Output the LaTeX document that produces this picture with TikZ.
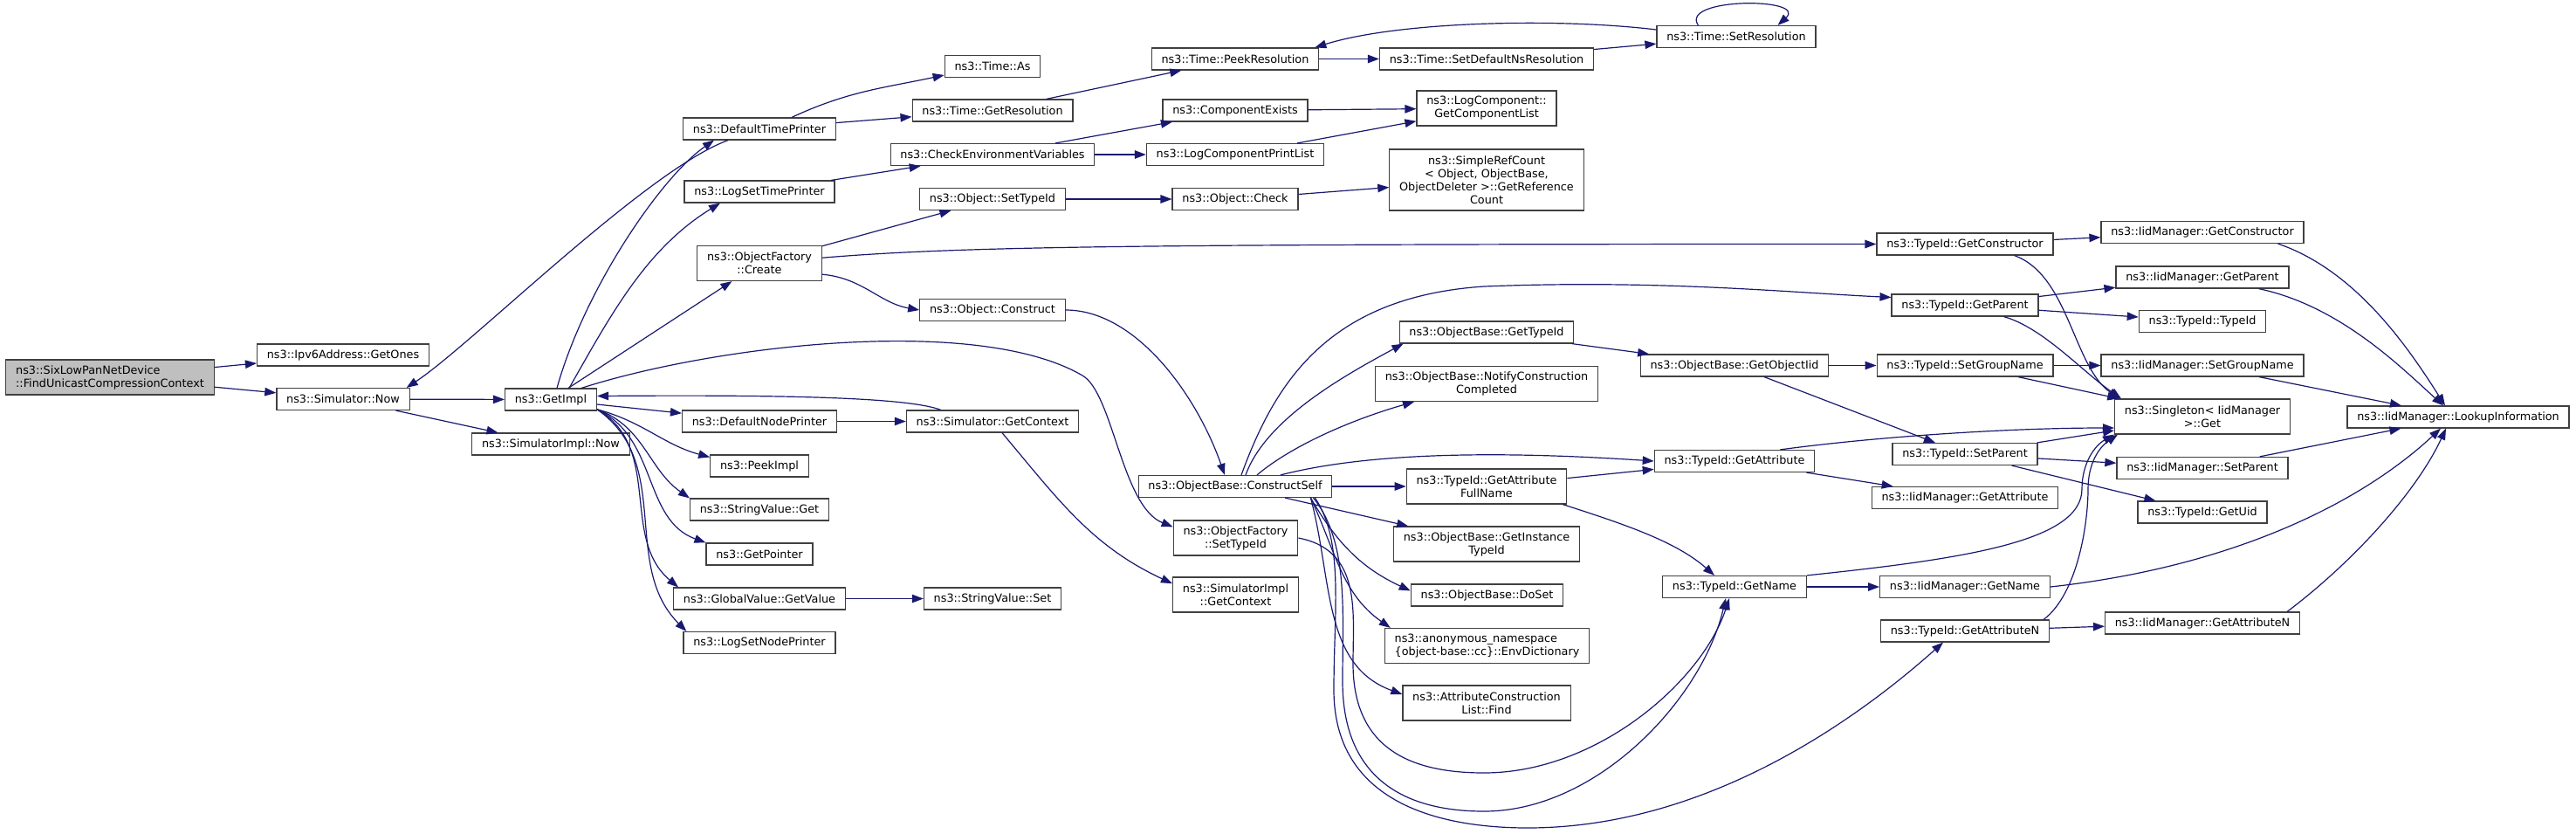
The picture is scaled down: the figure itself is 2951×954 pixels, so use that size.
\documentclass[tikz,border=0pt]{standalone}
\usepackage{fontspec}
\setmainfont{DejaVu Sans}
\usetikzlibrary{arrows.meta}
\definecolor{edgec}{HTML}{191970}
\definecolor{bordc}{HTML}{404040}
\definecolor{curfill}{HTML}{BFBFBF}
\begin{document}
\begin{tikzpicture}[x=1pt,y=-1pt,
  fnode/.style={draw=bordc,line width=1.2pt,fill=white,font=\fontsize{12.8pt}{15pt}\selectfont,inner xsep=11.3pt,inner ysep=2pt,minimum height=25pt,align=center},
  twol/.style={minimum height=40pt},
  call/.style={draw=edgec,line width=1.2pt,-{Triangle[length=13pt,width=9.5pt]}}]
\useasboundingbox (0,0) rectangle (2951,954);
% nodes
\node[fnode,twol,fill=curfill,align=left] (six) at (126,432) {ns3::SixLowPanNetDevice\\::FindUnicastCompressionContext};
\node[fnode] (getones) at (393,406.5) {ns3::Ipv6Address::GetOnes};
\node[fnode] (simnow) at (393,457) {ns3::Simulator::Now};
\node[fnode] (getimpl) at (631,457.5) {ns3::GetImpl};
\node[fnode] (simimplnow) at (631,508.5) {ns3::SimulatorImpl::Now};
\node[fnode] (dtp) at (870,147.5) {ns3::DefaultTimePrinter};
\node[fnode] (lstp) at (870,219.5) {ns3::LogSetTimePrinter};
\node[fnode,twol] (create) at (870,301.5) {ns3::ObjectFactory\\::Create};
\node[fnode] (dnp) at (870,482.5) {ns3::DefaultNodePrinter};
\node[fnode] (peek) at (870,533.5) {ns3::PeekImpl};
\node[fnode] (svget) at (870,583.5) {ns3::StringValue::Get};
\node[fnode] (getptr) at (870,634.5) {ns3::GetPointer};
\node[fnode] (gvget) at (870,685.5) {ns3::GlobalValue::GetValue};
\node[fnode] (lsnp) at (870,736) {ns3::LogSetNodePrinter};
\node[fnode] (timeas) at (1137,76) {ns3::Time::As};
\node[fnode] (getres) at (1137,126.5) {ns3::Time::GetResolution};
\node[fnode] (checkenv) at (1137,177) {ns3::CheckEnvironmentVariables};
\node[fnode] (objsettid) at (1137,228) {ns3::Object::SetTypeId};
\node[fnode] (objconstruct) at (1137,355) {ns3::Object::Construct};
\node[fnode] (simgetctx) at (1137,482.5) {ns3::Simulator::GetContext};
\node[fnode] (svset) at (1137,685.5) {ns3::StringValue::Set};
\node[fnode] (peekres) at (1415,67.5) {ns3::Time::PeekResolution};
\node[fnode] (compexists) at (1415,126.5) {ns3::ComponentExists};
\node[fnode] (lcpl) at (1415,177) {ns3::LogComponentPrintList};
\node[fnode] (objcheck) at (1415,228) {ns3::Object::Check};
\node[fnode] (cself) at (1415,557) {ns3::ObjectBase::ConstructSelf};
\node[fnode,twol] (ofsettid) at (1415.5,616) {ns3::ObjectFactory\\::SetTypeId};
\node[fnode,twol] (simimplctx) at (1415.5,681) {ns3::SimulatorImpl\\::GetContext};
\node[fnode] (setdefns) at (1703,67.5) {ns3::Time::SetDefaultNsResolution};
\node[fnode,twol] (getcomplist) at (1703,124) {ns3::LogComponent::\\GetComponentList};
\node[fnode,minimum height=70pt] (srefcount) at (1703,206) {ns3::SimpleRefCount\\< Object, ObjectBase,\\ObjectDeleter >::GetReference\\Count};
\node[fnode] (obgettid) at (1703,380.5) {ns3::ObjectBase::GetTypeId};
\node[fnode,twol] (notify) at (1703,439.5) {ns3::ObjectBase::NotifyConstruction\\Completed};
\node[fnode,twol] (gafn) at (1703,557) {ns3::TypeId::GetAttribute\\FullName};
\node[fnode,twol] (git) at (1703,623) {ns3::ObjectBase::GetInstance\\TypeId};
\node[fnode] (doset) at (1703.5,681.5) {ns3::ObjectBase::DoSet};
\node[fnode,twol,align=left] (envdict) at (1703.5,739.5) {ns3::anonymous\_namespace\\\{object-base::cc\}::EnvDictionary};
\node[fnode,twol] (acl) at (1703,805) {ns3::AttributeConstruction\\List::Find};
\node[fnode] (setres) at (1989,42) {ns3::Time::SetResolution};
\node[fnode] (getobjiid) at (1987,418.5) {ns3::ObjectBase::GetObjectIid};
\node[fnode] (tgetattr) at (1987,528) {ns3::TypeId::GetAttribute};
\node[fnode] (tgetname) at (1987,672) {ns3::TypeId::GetName};
\node[fnode] (tgetctor) at (2251,279.5) {ns3::TypeId::GetConstructor};
\node[fnode] (tgetparent) at (2251,349.5) {ns3::TypeId::GetParent};
\node[fnode] (tsetgroup) at (2251,418.5) {ns3::TypeId::SetGroupName};
\node[fnode] (tsetparent) at (2251,520) {ns3::TypeId::SetParent};
\node[fnode] (igetattr) at (2251,570) {ns3::IidManager::GetAttribute};
\node[fnode] (igetname) at (2251,672) {ns3::IidManager::GetName};
\node[fnode] (tgetattrn) at (2251,722.5) {ns3::TypeId::GetAttributeN};
\node[fnode] (igetctor) at (2523,266) {ns3::IidManager::GetConstructor};
\node[fnode] (igetparent) at (2523,317.5) {ns3::IidManager::GetParent};
\node[fnode] (ttypeid) at (2523,368) {ns3::TypeId::TypeId};
\node[fnode] (isetgroup) at (2523,418.5) {ns3::IidManager::SetGroupName};
\node[fnode,twol] (singleton) at (2523,477) {ns3::Singleton< IidManager\\>::Get};
\node[fnode] (isetparent) at (2523,536) {ns3::IidManager::SetParent};
\node[fnode] (tgetuid) at (2523,586.5) {ns3::TypeId::GetUid};
\node[fnode] (igetattrn) at (2523,713.5) {ns3::IidManager::GetAttributeN};
\node[fnode] (lookup) at (2816,477.5) {ns3::IidManager::LookupInformation};
% edges: left part
\draw[call] (six) -- (getones);
\draw[call] (six) -- (simnow);
\draw[call] (simnow) -- (getimpl);
\draw[call] (simnow) -- (simimplnow);
\draw[call] (dtp.-160) .. controls (740,195) and (540,395) .. ([xshift=-4pt]simnow.north east);
\draw[call] ([xshift=7pt]getimpl.north) .. controls (670,330) and (758,202) .. ([xshift=-52pt]dtp.south);
\draw[call] ([xshift=21pt]getimpl.north) .. controls (700,360) and (740,285) .. ([xshift=-45pt]lstp.south);
\draw[call] (getimpl) -- (create);
\draw[call] ([xshift=-18pt]getimpl.north east) .. controls (820,395) and (1120,360) .. (1240,430) .. controls (1275,450) and (1285,580) .. (ofsettid.170);
\draw[call] (getimpl) -- (dnp);
\draw[call] (getimpl.-12) to[out=-15,in=165] (peek.170);
\draw[call] (getimpl.-12) to[out=-20,in=145] (svget.north west);
\draw[call] (getimpl.-12) to[out=-25,in=160] (getptr.north west);
\draw[call] (getimpl.-12) to[out=-30,in=140] ([xshift=6pt]gvget.north west);
\draw[call] (getimpl.-12) to[out=-35,in=135] ([xshift=4pt]lsnp.north west);
\draw[call] ([xshift=40pt]simgetctx.north west) .. controls (1040,455) and (900,452) .. ([yshift=4pt]getimpl.east);
\draw[call] (dnp) -- (simgetctx);
\draw[call] (simgetctx.-50) to[out=-50,in=155] (simimplctx.170);
\draw[call] (gvget) -- (svset);
\draw[call] ([xshift=37pt]dtp.north) to[out=25,in=192] ([yshift=-10pt]timeas.west);
\draw[call] (dtp) -- (getres);
\draw[call] (getres) -- (peekres);
\draw[call] (lstp) -- (checkenv);
\draw[call] (checkenv) -- (compexists);
\draw[call] (checkenv) -- (lcpl);
\draw[call] (compexists) -- (getcomplist);
\draw[call] (lcpl) -- (getcomplist);
\draw[call] (create) -- (objsettid);
\draw[call] (create.5) .. controls (1100,282) and (1300,279.5) .. (tgetctor.west);
\draw[call] (create.-10) to[out=-5,in=170] (objconstruct.west);
\draw[call] (objsettid) -- (objcheck);
\draw[call] (objcheck) -- (srefcount);
\draw[call] (peekres) -- (setdefns);
\draw[call] (setdefns) -- (setres);
\draw[call] (setres.175) .. controls (1780,20) and (1600,25) .. ([xshift=-5pt]peekres.north east);
\draw[call] ([xshift=48pt]setres.north west) .. controls +(-22,-32) and +(35,-32) .. ([xshift=-44pt]setres.north east);
\draw[call] (objconstruct.east) .. controls (1300,355) and (1370,450) .. ([xshift=-12pt]cself.north);
% ConstructSelf
\draw[call] ([xshift=12pt]cself.north) .. controls (1450,480) and (1540,430) .. ([xshift=5pt]obgettid.south west);
\draw[call] ([xshift=25pt]cself.north) .. controls (1480,510) and (1550,480) .. ([xshift=-83pt]notify.south);
\draw[call] ([xshift=7pt]cself.north) .. controls (1460,440) and (1520,340) .. (1700,328) .. controls (1900,320) and (2050,335) .. ([yshift=9pt]tgetparent.west);
\draw[call] ([xshift=52pt]cself.north) .. controls (1560,520) and (1700,515) .. (tgetattr.west);
\draw[call] (cself) -- (gafn);
\draw[call] (cself) -- (git);
\draw[call] ([xshift=-25pt]cself.south east) to[out=-60,in=155] ([yshift=5pt]doset.west);
\draw[call] ([xshift=-25pt]cself.south east) to[out=-65,in=145] ([xshift=7pt]envdict.north west);
\draw[call] ([xshift=-25pt]cself.south east) to[out=-75,in=160] ([yshift=10pt]acl.west);
\draw[call] (ofsettid.east) .. controls (1560,630) and (1550,700) .. (1550,760) .. controls (1550,860) and (1620,885) .. (1700,885) .. controls (1830,885) and (1950,780) .. ([xshift=-6pt]tgetname.south);
\draw[call] ([xshift=-22pt]cself.south east) .. controls (1545,620) and (1538,700) .. (1538,780) .. controls (1538,900) and (1620,929) .. (1700,929) .. controls (1830,929) and (1950,800) .. ([xshift=-10pt]tgetname.south);
\draw[call] ([xshift=-20pt]cself.south east) .. controls (1540,620) and (1528,700) .. (1528,790) .. controls (1528,920) and (1650,948) .. (1750,948) .. controls (1950,948) and (2120,830) .. ([xshift=-25pt]tgetattrn.south);
\draw[call] (gafn) -- (tgetattr);
\draw[call] ([xshift=-5pt]gafn.south east) .. controls (1860,600) and (1920,620) .. ([xshift=-23pt]tgetname.north);
\draw[call] (obgettid) -- (getobjiid);
\draw[call] (getobjiid) -- (tsetgroup);
\draw[call] (getobjiid) -- (tsetparent);
% right part
\draw[call] ([xshift=-40pt]tgetattr.north east) .. controls (2150,500) and (2300,490) .. ([yshift=-13pt]singleton.west);
\draw[call] (tgetattr) -- (igetattr);
\draw[call] (tgetctor) -- (igetctor);
\draw[call] ([xshift=-45pt]tgetctor.south east) .. controls (2370,315) and (2375,420) .. ([xshift=6pt]singleton.north west);
\draw[call] ([xshift=-40pt]tgetparent.south east) .. controls (2340,375) and (2385,425) .. ([xshift=8pt]singleton.north west);
\draw[call] (tgetparent) -- (igetparent);
\draw[call] (tgetparent) -- (ttypeid);
\draw[call] (tsetgroup) -- (isetgroup);
\draw[call] (tsetgroup) -- (singleton);
\draw[call] (tsetparent) -- (singleton);
\draw[call] (tsetparent) -- (isetparent);
\draw[call] (tsetparent) -- (tgetuid);
\draw[call] (tgetname.north east) .. controls (2250,640) and (2385,620) .. (2385,560) .. controls (2385,530) and (2400,510) .. (singleton.south west);
\draw[call] (tgetname) -- (igetname);
\draw[call] ([xshift=-7pt]tgetattrn.north east) .. controls (2380,680) and (2392,600) .. (2392,560) .. controls (2392,530) and (2405,512) .. ([xshift=4pt]singleton.south west);
\draw[call] (tgetattrn) -- (igetattrn);
\draw[call] (igetname.east) .. controls (2550,650) and (2700,580) .. ([xshift=-20pt]lookup.south);
\draw[call] ([xshift=-15pt]igetattrn.north east) .. controls (2700,640) and (2770,560) .. ([xshift=-14pt]lookup.south);
\draw[call] ([xshift=-30pt]igetctor.south east) .. controls (2700,310) and (2760,400) .. ([xshift=-15pt]lookup.north);
\draw[call] ([xshift=-35pt]igetparent.south east) .. controls (2680,350) and (2750,420) .. ([xshift=-17pt]lookup.north);
\draw[call] (isetgroup) -- (lookup);
\draw[call] (isetparent) -- (lookup);
\end{tikzpicture}
\end{document}
